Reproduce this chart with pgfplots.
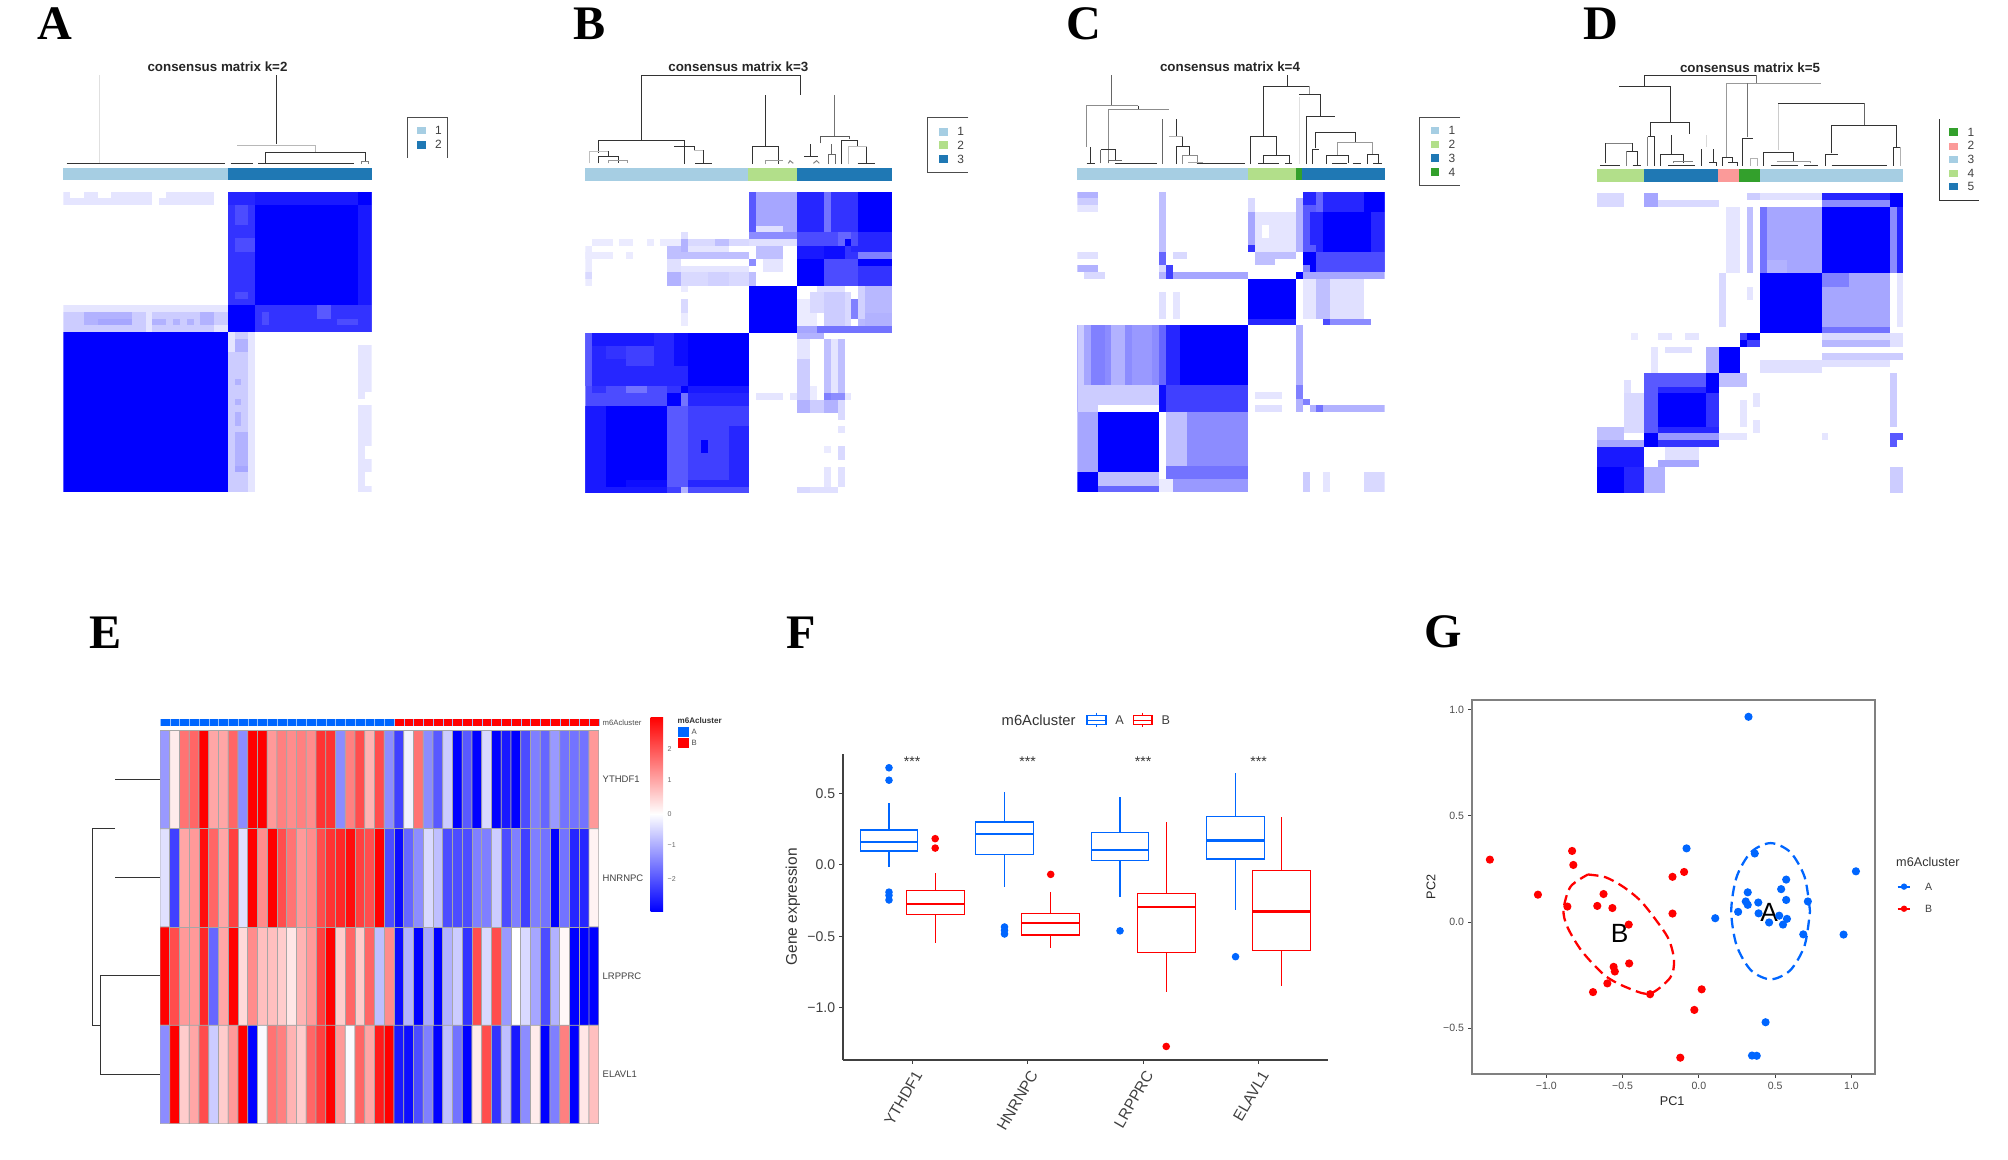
\documentclass[border=0pt]{standalone}
\usepackage{fontspec}
\setmainfont{Liberation Sans}
\newfontfamily\lserif{Liberation Serif}
\usepackage{pgfplots}
\pgfplotsset{compat=1.18}
\usepgfplotslibrary{statistics}
\definecolor{ca}{HTML}{A6CEE3}
\definecolor{cb}{HTML}{1F78B4}
\definecolor{cg}{HTML}{B2DF8A}
\definecolor{cd}{HTML}{33A02C}
\definecolor{cp}{HTML}{FB9A99}
\definecolor{cA}{HTML}{0066FF}
\definecolor{cB}{HTML}{FF0000}
\def\fs#1{\fontsize{#1}{#1}\selectfont}
% one block of a consensus matrix: x1,y1,x2,y2,percent blue
\def\R#1,#2,#3,#4,#5;{\addplot[fill=blue!#5!white,draw=none,forget plot] coordinates {(#1,#2)(#3,#2)(#3,#4)(#1,#4)} --cycle;}
% coloured block: x1,y1,x2,y2,colour
\def\C#1,#2,#3,#4,#5;{\addplot[fill=#5,draw=none,forget plot] coordinates {(#1,#2)(#3,#2)(#3,#4)(#1,#4)} --cycle;}
% dendrogram line
\newcommand\Ln[2][black!80]{\addplot[draw=#1,line width=.28pt,forget plot,mark=none] coordinates {#2};}
\newcommand\Nd[4][3.4]{\node[font=\fs{#1},text=black!75,inner sep=0pt] at (axis cs:#2,#3) {#4};}
\newcommand\BX[8]{\addplot[#2,line width=.33pt,mark=*,mark size=.9pt,mark options={fill=#2,solid},boxplot prepared={draw position=#1,lower whisker=#3,lower quartile=#4,median=#5,upper quartile=#6,upper whisker=#7}] coordinates {#8};}
\pgfplotsset{
  hm/.style={scale only axis,hide axis,anchor=north west,xmin=0,xmax=45,ymin=0,ymax=45,y dir=reverse},
  zm/.style={scale only axis,hide axis,anchor=north west,xmin=0,ymin=0,y dir=reverse,clip=false},
}
\begin{document}
\begin{tikzpicture}
\path[use as bounding box] (0,0) rectangle (200.8mm,-115.9mm);

% ---------- A
\begin{axis}[hm,at={(6.33mm,-19.17mm)},width=30.84mm,height=30.06mm]
\R 24,0,45,21,90;
\R 24,0,28,2,85;
\R 28,2,43,17,100;
\R 43,0,45,2,100;
\R 24,2,28,17,80;
\R 25,2,27,5,70;
\R 25,7,28,9,70;
\R 25,15,27,16,70;
\R 43,2,45,17,90;
\R 24,17,28,21,100;
\R 28,17,45,21,80;
\R 29,18,30,20,70;
\R 37,17,39,19,65;
\R 40,19,43,20,70;
\R 0,0,13,2,10;
\R 1,0,3,1,0;
\R 5,0,7,1,0;
\R 14,1,22,2,10;
\R 15,0,22,1,10;
\R 0,17,24,18,10;
\R 0,18,24,21,20;
\R 3,18,10,20,30;
\R 5,19,10,20,35;
\R 13,19,15,20,30;
\R 16,19,17,20,30;
\R 18,19,19,20,30;
\R 20,18,22,20,30;
\R 12,18,13,21,10;
\R 22,20,24,21,10;
\R 0,21,24,45,100;
\R 24,21,28,45,20;
\R 27,21,28,45,10;
\R 24,21,25,24,10;
\R 25,22,27,24,30;
\R 25,28,26,29,30;
\R 25,31,26,32,30;
\R 25,33,26,35,30;
\R 25,36,27,41,30;
\R 25,41,27,42,35;
\R 43,23,45,30,10;
\R 43,30,44,31,10;
\R 43,32,45,38,10;
\R 43,38,44,40,10;
\R 43,40,45,42,10;
\R 43,42,44,44,10;
\R 43,44,45,45,10;
\end{axis}
\begin{axis}[zm,at={(0,0)},width=52mm,height=52mm,xmax=1560,ymax=1560]
\C 190,503,683,541,ca;
\C 683,503,1115,541,cb;
\Ln[black!12]{(297,225)(297,490)}
\Ln{(828,225)(828,433)}
\Ln[black!28]{(712,435)(947,435)(947,456)}
\Ln{(795,490)(795,457)(1095,457)(1095,483)}
\Ln{(200,491)(675,491)}
\Ln{(692,491)(760,491)}
\Ln{(775,491)(1063,491)}
\Ln[black!50]{(1083,491)(1083,483)(1105,483)(1105,491)}
\Ln[black!70]{(1221,473)(1221,352)(1341,352)(1341,473)}
\C 1250,380,1277,403,ca;
\C 1250,423,1277,446,cb;
\Nd{1315}{391}{1}
\Nd{1315}{434}{2}
\end{axis}

% ---------- B
\begin{axis}[hm,at={(58.53mm,-19.2mm)},width=30.7mm,height=30.13mm]
\R 31,0,45,14,80;
\R 40,0,45,6,100;
\R 31,0,35,6,85;
\R 35,0,36,6,55;
\R 36,0,40,6,80;
\R 31,6,40,8,70;
\R 37,6,39,8,60;
\R 38,7,39,8,100;
\R 40,6,45,8,85;
\R 31,8,35,10,90;
\R 35,8,38,10,95;
\R 39,8,45,9,85;
\R 40,9,45,10,50;
\R 31,10,35,14,100;
\R 35,10,40,14,70;
\R 40,10,45,14,80;
\R 40,10,45,11,100;
\R 24,0,31,6,35;
\R 24,0,25,6,65;
\R 25,5,29,6,12;
\R 24,6,31,7,45;
\R 24,7,31,8,12;
\R 25,8,29,10,25;
\R 24,10,25,11,45;
\R 26,10,29,12,10;
\R 24,12,25,14,25;
\R 1,7,4,8,8;
\R 5,7,7,8,8;
\R 9,7,10,8,8;
\R 11,7,15,8,8;
\R 0,8,1,10,8;
\R 0,9,4,10,8;
\R 6,9,7,10,8;
\R 0,10,1,14,8;
\R 0,12,1,13,15;
\R 14,6,15,7,12;
\R 15,7,24,8,15;
\R 19,7,21,8,25;
\R 14,7,15,8,30;
\R 12,8,14,9,25;
\R 14,8,15,10,30;
\R 15,8,21,9,10;
\R 12,9,24,10,25;
\R 12,10,14,12,12;
\R 14,11,24,13,10;
\R 15,12,24,14,15;
\R 12,12,14,14,30;
\R 14,12,16,14,15;
\R 18,12,21,14,18;
\R 24,14,31,21,100;
\R 14,14,15,15,8;
\R 14,16,15,18,15;
\R 14,18,15,20,8;
\R 34,14,38,15,12;
\R 31,16,34,20,8;
\R 33,15,36,18,15;
\R 35,15,38,20,20;
\R 38,15,39,20,15;
\R 39,16,40,19,50;
\R 40,14,45,20,28;
\R 40,14,41,19,18;
\R 41,18,45,20,30;
\R 31,20,34,21,35;
\R 34,20,45,21,55;
\R 0,21,15,29,85;
\R 0,21,1,29,65;
\R 1,21,10,23,90;
\R 6,23,10,26,75;
\R 3,23,6,25,80;
\R 15,21,24,29,100;
\R 13,21,15,26,95;
\R 0,29,15,32,70;
\R 1,29,3,30,80;
\R 6,29,9,30,55;
\R 12,29,14,30,80;
\R 14,29,15,31,100;
\R 15,29,24,30,90;
\R 12,30,14,32,100;
\R 14,30,15,32,55;
\R 15,30,24,32,85;
\R 0,32,12,45,100;
\R 0,32,3,44,90;
\R 6,43,12,44,95;
\R 0,44,15,45,90;
\R 12,32,24,45,75;
\R 12,32,15,44,65;
\R 17,37,18,39,100;
\R 21,35,24,43,85;
\R 15,43,24,44,85;
\R 14,44,15,45,30;
\R 15,44,24,45,70;
\R 31,22,33,31,10;
\R 31,25,33,31,20;
\R 33,29,34,31,8;
\R 35,22,36,31,25;
\R 36,22,37,31,10;
\R 37,22,38,31,25;
\R 31,21,35,22,30;
\R 31,31,33,33,30;
\R 33,31,35,33,20;
\R 35,30,37,31,50;
\R 36,30,38,31,45;
\R 38,30,39,31,10;
\R 35,31,37,33,30;
\R 37,31,38,34,15;
\R 25,30,29,31,10;
\R 30,30,31,31,10;
\R 37,35,38,36,10;
\R 35,38,36,39,8;
\R 37,38,38,40,15;
\R 35,41,36,44,10;
\R 37,41,38,44,12;
\R 31,44,33,45,15;
\R 33,44,37,45,12;
\end{axis}
\begin{axis}[zm,at={(54mm,0)},width=48mm,height=52mm,xmax=1440,ymax=1560]
\C 136,503,625,543,ca;
\C 625,503,772,543,cg;
\C 772,503,1057,543,cb;
\Ln{(305,420)(305,225)(780,225)(780,285)}
\Ln{(176,458)(176,420)(433,420)(433,438)}
\Ln[black!25]{(148,490)(148,453)(205,453)}
\Ln{(205,453)(205,468)}
\Ln{(176,490)(176,468)(235,468)(235,490)}
\Ln[black!40]{(205,490)(205,481)(262,481)(262,490)}
\Ln{(403,438)(463,438)(463,450)}
\Ln{(433,438)(433,492)}
\Ln[black!25]{(463,450)(490,450)}
\Ln{(490,450)(490,488)}
\Ln{(465,490)(515,490)}
\Ln{(676,285)(676,438)}
\Ln{(637,492)(637,438)(714,438)(714,492)}
\Ln[black!40]{(676,492)(676,481)(730,481)}
\Ln[black!50]{(745,490)(750,482)(760,490)}
\Ln[black!55]{(883,285)(883,408)}
\Ln[black!65]{(841,430)(841,410)(928,410)(928,418)}
\Ln{(812,433)(812,470)}
\Ln{(792,470)(835,470)}
\Ln[black!50]{(820,490)(830,482)(838,490)}
\Ln[black!60]{(875,433)(875,462)}
\Ln[black!60]{(865,492)(865,462)(885,462)(885,492)}
\Ln{(903,492)(903,420)(951,420)(951,440)}
\Ln[black!25]{(925,492)(925,440)(980,440)}
\Ln{(980,440)(980,488)}
\Ln{(953,490)(1005,490)}
\Ln[black!70]{(1285,352)(1163,352)(1163,516)(1285,516)}
\C 1196,383,1223,407,ca;
\C 1196,423,1223,447,cg;
\C 1196,465,1223,489,cb;
\Nd{1262}{395}{1}
\Nd{1262}{435}{2}
\Nd{1262}{477}{3}
\end{axis}

% ---------- C
\begin{axis}[hm,at={(107.73mm,-19.17mm)},width=30.74mm,height=30.06mm]
\R 33,0,45,12,85;
\R 36,3,43,9,100;
\R 42,0,45,3,100;
\R 35,0,36,3,60;
\R 33,2,35,9,65;
\R 34,3,35,8,85;
\R 33,9,35,11,100;
\R 35,9,45,12,70;
\R 43,3,45,9,85;
\R 34,11,35,12,100;
\R 33,11,34,12,50;
\R 26,3,32,9,10;
\R 27,5,28,7,0;
\R 25,1,26,3,15;
\R 25,3,26,9,35;
\R 25,8,26,9,80;
\R 32,1,33,9,30;
\R 26,9,32,10,25;
\R 26,10,29,11,25;
\R 12,0,13,9,25;
\R 12,9,13,11,60;
\R 12,11,13,12,15;
\R 13,11,14,13,75;
\R 14,9,16,10,15;
\R 0,0,3,1,30;
\R 0,1,3,2,20;
\R 0,2,3,3,10;
\R 0,9,3,10,12;
\R 0,11,3,12,30;
\R 1,12,4,13,15;
\R 12,12,13,13,30;
\R 14,12,25,13,35;
\R 25,13,32,20,100;
\R 25,19,32,20,85;
\R 33,13,35,19,10;
\R 35,13,37,19,25;
\R 37,13,42,19,12;
\R 37,19,43,20,45;
\R 36,19,37,20,70;
\R 32,12,33,13,100;
\R 33,12,45,13,35;
\R 12,15,13,19,12;
\R 14,15,15,19,10;
\R 0,20,25,33,75;
\R 15,20,25,29,100;
\R 13,20,15,29,85;
\R 0,20,13,29,45;
\R 0,20,1,29,20;
\R 1,20,2,29,35;
\R 2,20,4,29,50;
\R 5,20,7,29,30;
\R 8,20,11,29,40;
\R 12,20,13,29,60;
\R 0,29,12,33,20;
\R 3,32,12,33,0;
\R 12,29,25,33,75;
\R 12,29,13,33,95;
\R 3,33,12,42,100;
\R 0,33,3,42,35;
\R 12,33,13,42,0;
\R 13,33,16,42,25;
\R 16,33,25,42,45;
\R 13,41,25,43,55;
\R 3,41,12,42,100;
\R 0,42,3,45,100;
\R 3,42,12,45,25;
\R 3,44,12,45,60;
\R 12,43,14,45,8;
\R 14,43,25,45,40;
\R 32,20,33,33,30;
\R 32,29,33,31,50;
\R 33,31,34,32,50;
\R 33,42,34,45,20;
\R 36,42,37,45,10;
\R 42,42,45,45,15;
\R 26,30,30,31,10;
\R 26,32,30,33,12;
\R 34,32,45,33,30;
\R 35,32,36,33,55;
\end{axis}
\begin{axis}[zm,at={(104mm,0)},width=48mm,height=52mm,xmax=1440,ymax=1560]
\C 112,503,625,541,ca;
\C 625,503,767,541,cg;
\C 767,503,787,541,cd;
\C 787,503,1034,541,cb;
\Ln[black!60]{(215,225)(215,317)}
\Ln[black!45]{(138,440)(138,317)(295,317)}
\Ln{(295,317)(295,327)}
\Ln[black!45]{(205,490)(205,328)(388,328)}
\Ln[black!60]{(367,357)(367,492)}
\Ln{(409,357)(409,410)}
\Ln[black!30]{(388,410)(428,410)}
\Ln{(428,410)(428,438)}
\Ln{(408,492)(408,438)(448,438)(448,465)}
\Ln[black!45]{(428,492)(428,465)(472,465)(472,485)}
\Ln[black!35]{(445,487)(490,487)}
\Ln{(470,491)(615,491)}
\Ln{(152,442)(152,490)}
\Ln{(140,491)(165,491)}
\Ln[black!60]{(182,490)(182,449)}
\Ln{(182,449)(225,449)(225,480)}
\Ln[black!60]{(205,490)(205,482)(245,482)}
\Ln{(225,491)(350,491)}
\Ln{(742,225)(742,258)}
\Ln{(671,408)(671,258)(808,258)}
\Ln[black!40]{(808,258)(808,282)}
\Ln{(632,492)(632,410)(708,410)(708,465)}
\Ln{(671,492)(671,467)(747,467)(747,490)}
\Ln{(655,491)(717,491)}
\Ln{(735,491)(757,491)}
\Ln{(778,282)(842,282)(842,349)}
\Ln{(798,492)(798,349)(886,349)}
\Ln[black!12]{(778,290)(778,492)}
\Ln{(827,445)(827,396)(946,396)(946,428)}
\Ln{(817,492)(817,449)(838,449)}
\Ln[black!40]{(892,465)(892,428)(998,428)(998,462)}
\Ln{(858,492)(858,467)(925,467)(925,490)}
\Ln{(877,491)(922,491)}
\Ln{(938,491)(962,491)}
\Ln{(982,492)(982,462)(1015,462)(1015,491)}
\Ln{(1000,491)(1025,491)}
\Ln[black!70]{(1260,352)(1139,352)(1139,556)(1260,556)}
\C 1172,380,1198,403,ca;
\C 1172,423,1198,445,cg;
\C 1172,463,1198,486,cb;
\C 1172,504,1198,527,cd;
\Nd{1236}{391}{1}
\Nd{1236}{434}{2}
\Nd{1236}{475}{3}
\Nd{1236}{516}{4}
\end{axis}

% ---------- D
\begin{axis}[hm,at={(159.67mm,-19.33mm)},width=30.66mm,height=30mm]
\R 33,0,45,1,85;
\R 33,1,43,2,45;
\R 43,0,45,2,100;
\R 33,2,43,12,100;
\R 43,2,44,12,45;
\R 44,2,45,12,85;
\R 24,2,33,12,35;
\R 24,2,25,12,55;
\R 25,10,28,12,30;
\R 22,2,23,12,25;
\R 20,2,21,12,10;
\R 19,2,20,12,10;
\R 24,0,33,1,12;
\R 22,0,24,1,20;
\R 33,12,43,20,35;
\R 33,12,37,14,50;
\R 24,12,33,21,100;
\R 33,20,43,21,55;
\R 18,12,19,20,15;
\R 22,14,23,16,10;
\R 44,12,45,20,10;
\R 33,21,43,22,15;
\R 33,22,43,23,28;
\R 43,21,45,23,12;
\R 21,21,22,23,75;
\R 22,21,24,22,100;
\R 22,22,24,23,75;
\R 21,22,22,23,100;
\R 18,23,21,27,100;
\R 16,23,18,27,30;
\R 10,23,14,24,12;
\R 18,23,21,24,100;
\R 33,24,45,25,20;
\R 33,25,43,26,12;
\R 24,25,33,27,12;
\R 7,27,18,29,65;
\R 16,27,18,30,100;
\R 9,30,16,35,100;
\R 7,29,9,38,65;
\R 9,29,16,30,85;
\R 16,30,18,36,80;
\R 9,35,18,36,85;
\R 9,36,18,37,40;
\R 9,37,18,38,80;
\R 7,36,9,38,100;
\R 4,28,5,30,12;
\R 4,30,7,36,15;
\R 0,35,4,37,25;
\R 0,37,7,38,35;
\R 0,38,7,41,90;
\R 0,41,4,45,100;
\R 4,41,7,45,85;
\R 10,38,15,40,12;
\R 9,40,15,41,35;
\R 7,41,10,45,30;
\R 18,27,22,29,25;
\R 18,36,22,37,10;
\R 21,31,22,35,10;
\R 23,30,24,32,10;
\R 23,34,24,36,10;
\R 43,27,44,35,20;
\R 43,36,45,37,65;
\R 43,37,44,38,65;
\R 43,41,45,45,20;
\R 33,36,34,37,10;
\R 0,0,4,2,15;
\R 7,0,9,2,35;
\R 9,1,18,2,15;
\R 5,21,6,22,8;
\R 9,21,11,22,10;
\R 13,21,15,22,10;
\R 8,23,9,27,10;
\end{axis}
\begin{axis}[zm,at={(156mm,0)},width=44.8mm,height=52mm,xmax=1344,ymax=1560]
\C 110,506,252,546,cg;
\C 252,506,475,546,cb;
\C 475,506,538,546,cp;
\C 538,506,600,546,cd;
\C 600,506,1030,546,ca;
\Ln{(254,258)(254,226)(588,226)}
\Ln[black!55]{(588,226)(588,248)}
\Ln{(177,258)(330,258)(330,366)}
\Ln[black!40]{(500,470)(500,250)(783,250)}
\Ln[black!55]{(563,410)(563,250)}
\Ln[black!20]{(655,450)(655,310)}
\Ln{(655,310)(914,310)}
\Ln[black!60]{(914,310)(914,377)}
\Ln{(815,460)(815,377)(1010,377)(1010,442)}
\Ln{(272,410)(272,366)(388,366)(388,403)}
\Ln[black!50]{(263,497)(263,410)}
\Ln{(263,410)(284,410)(284,497)}
\Ln{(335,405)(335,462)}
\Ln{(302,497)(302,462)(369,462)(369,490)}
\Ln[black!50]{(340,490)(340,485)(398,485)}
\Ln{(325,496)(405,496)}
\Ln{(425,447)(425,497)}
\Ln[black!15]{(440,405)(440,440)}
\Ln{(459,447)(459,485)}
\Ln{(448,488)(470,488)(470,497)}
\Ln[black!50]{(135,430)(217,430)}
\Ln{(135,490)(135,430)}
\Ln{(120,496)(180,496)}
\Ln{(217,430)(217,452)}
\Ln[black!50]{(200,497)(200,454)}
\Ln{(200,454)(232,454)(232,497)}
\Ln{(218,496)(242,496)}
\Ln{(486,497)(486,471)(517,471)(517,488)}
\Ln{(505,488)(532,488)(532,497)}
\Ln{(548,497)(548,414)(578,414)}
\Ln[black!30]{(570,497)(570,476)(593,476)(593,497)}
\Ln{(611,497)(611,458)(700,458)(700,483)}
\Ln{(632,496)(714,496)}
\Ln[black!40]{(650,483)(750,483)(750,490)}
\Ln{(733,496)(775,496)}
\Ln{(795,497)(795,462)(835,462)}
\Ln{(815,496)(980,496)}
\Ln{(1000,497)(1000,442)(1020,442)}
\Ln[black!30]{(1020,442)(1020,497)}
\Ln[black!80]{(1137,357)(1137,600)(1257,600)}
\C 1168,385,1195,408,cd;
\C 1168,428,1195,449,cp;
\C 1168,467,1195,490,ca;
\C 1168,509,1195,530,cg;
\C 1168,548,1195,571,cb;
\Nd{1233}{397}{1}
\Nd{1233}{437}{2}
\Nd{1233}{478}{3}
\Nd{1233}{520}{4}
\Nd{1233}{560}{5}
\end{axis}

% ---------- E
\begin{axis}[scale only axis,hide axis,anchor=north west,at={(16mm,-73.04mm)},width=43.88mm,height=39.32mm,
  xmin=-0.5,xmax=44.5,ymin=-0.5,ymax=3.5,y dir=reverse,
  colormap={bwr}{rgb255=(0,0,255) rgb255=(255,255,255) rgb255=(255,0,0)},point meta min=-1,point meta max=1]
\addplot[matrix plot,mesh/cols=45,point meta=explicit,draw=gray!70,line width=.2pt]
 table[row sep=crcr,header=false,x expr={\coordindex-45*floor((\coordindex+0.5)/45)},y expr={floor((\coordindex+0.5)/45)},meta index=0]{
 -0.4\\0.08\\0.55\\0.6\\1\\0.35\\0.35\\0.6\\-0.45\\1\\1\\0.4\\0.5\\0.45\\0.5\\0.45\\0.8\\0.8\\-0.45\\0.5\\0.7\\0.3\\0.7\\-0.45\\-0.75\\-0.05\\0.55\\-0.45\\-0.65\\-0.2\\-1\\-0.65\\-1\\-0.15\\-1\\-0.9\\-1\\-0.7\\-0.5\\-0.6\\-0.4\\-0.55\\-0.55\\-0.55\\0.4\\
 -0.12\\-0.75\\0.35\\0.4\\0.95\\0.6\\0.35\\0.75\\-0.12\\1\\0.45\\1\\0.7\\0.55\\0.4\\0.45\\0.7\\0.8\\0.85\\0.95\\0.75\\0.7\\1\\-0.7\\-0.95\\-0.6\\-0.45\\-0.15\\-0.25\\-0.7\\-0.7\\-0.7\\-0.5\\-0.5\\-0.2\\-0.7\\-0.5\\-0.75\\-0.5\\-0.55\\-1\\-0.55\\-0.85\\-0.85\\0.05\\
 1\\0.7\\0.4\\0.4\\0.85\\-0.6\\0.35\\1\\0.15\\0.45\\0.25\\0.25\\0.2\\0.1\\0.3\\0.4\\0.75\\1\\0.2\\0.6\\0.2\\0.6\\-0.25\\0.45\\-0.95\\-0.3\\-1\\-0.35\\-1\\-0.3\\-0.2\\-0.8\\0.7\\-0.15\\0.7\\-0.4\\0\\-0.15\\-0.35\\-0.7\\-0.3\\0.03\\-1\\-1\\-1\\
 -0.45\\1\\0.2\\0.35\\0.7\\-0.2\\0.2\\0.4\\1\\-1\\-0.02\\0.55\\0.5\\0.3\\0.2\\0.6\\0.75\\1\\0.4\\-0.02\\0.6\\0.35\\0.9\\1\\-0.9\\-0.95\\-0.7\\-0.5\\-1\\-0.25\\-0.55\\-1\\0.08\\0.7\\-0.8\\-0.25\\-0.9\\-0.45\\0.08\\-1\\-0.5\\0.5\\-1\\0.1\\0.25\\
 };
\end{axis}
% annotation bar of E
\begin{axis}[scale only axis,anchor=north west,at={(16mm,-71.85mm)},width=43.88mm,height=.77mm,xmin=0,xmax=45,ymin=0,ymax=1,
  xtick={0,...,45},ytick=\empty,xticklabels={},major tick length=0pt,xmajorgrids,grid style={white!60!cA,line width=.12pt},axis on top,axis line style={draw=none}]
\C 0,0,24,1,cA;
\C 24,0,45,1,cB;
\end{axis}
% dendrogram of E, in pixels of the page
\begin{axis}[scale only axis,hide axis,anchor=north west,at={(0,0)},width=200.8mm,height=115.9mm,xmin=0,xmax=2008,ymin=0,ymax=1159,y dir=reverse,clip=false]
\Ln{(115,779.5)(160,779.5)}
\Ln{(115,877.9)(160,877.9)}
\Ln{(115,828.7)(92,828.7)(92,1025)(100,1025)}
\Ln{(160,975.9)(100,975.9)(100,1074)(160,1074)}
\end{axis}

% ---------- F
\begin{axis}[scale only axis,anchor=north west,at={(84.29mm,-75.36mm)},width=48.46mm,height=30.64mm,
  xmin=0.401,xmax=4.596,ymin=-1.365,ymax=0.779,axis lines=left,
  axis line style={-,line width=.4pt,black!75},tick style={black!75,line width=.3pt},major tick length=1pt,tick align=outside,
  xtick={1,2,3,4},xticklabels={YTHDF1,HNRNPC,LRPPRC,ELAVL1},
  ytick={-1,-0.5,0,0.5},yticklabels={−1.0,−0.5,0.0,0.5},
  y tick label style={font=\fs{4},text=black!75,inner sep=1pt},
  x tick label style={font=\fs{4.4},text=black!75,rotate=60,anchor=north east,inner sep=1pt},
  ylabel={Gene expression},ylabel style={font=\fs{4.4},text=black!80,at={(axis description cs:-0.103,0.5)},anchor=center},
  boxplot/draw direction=y,boxplot/box extend=0.5,boxplot/whisker extend=0,boxplot/every median/.style={line width=.65pt},clip=false]
\BX{0.8}{cA}{-0.012}{0.098}{0.16}{0.245}{0.436}{(0,0.68)(0,0.593)(0,-0.19)(0,-0.213)(0,-0.245)}
\BX{1.2}{cB}{-0.549}{-0.346}{-0.272}{-0.179}{-0.054}{(0,0.184)(0,0.118)}
\BX{1.8}{cA}{-0.152}{0.074}{0.216}{0.30}{0.51}{(0,-0.434)(0,-0.458)(0,-0.483)}
\BX{2.2}{cB}{-0.581}{-0.49}{-0.404}{-0.34}{-0.189}{(0,-0.066)}
\BX{2.8}{cA}{-0.225}{0.032}{0.105}{0.23}{0.478}{(0,-0.461)}
\BX{3.2}{cB}{-0.892}{-0.61}{-0.294}{-0.199}{0.30}{(0,-1.27)}
\BX{3.8}{cA}{-0.316}{0.042}{0.172}{0.34}{0.642}{(0,-0.642)}
\BX{4.2}{cB}{-0.85}{-0.60}{-0.326}{-0.037}{0.333}{}
\node[font=\fs{4},text=black!80,inner sep=0pt] at (axis cs:1,0.72) {***};
\node[font=\fs{4},text=black!80,inner sep=0pt] at (axis cs:2,0.72) {***};
\node[font=\fs{4},text=black!80,inner sep=0pt] at (axis cs:3,0.72) {***};
\node[font=\fs{4},text=black!80,inner sep=0pt] at (axis cs:4,0.72) {***};
\end{axis}

% ---------- G
\begin{axis}[scale only axis,anchor=north west,at={(147.17mm,-70mm)},width=40.33mm,height=37.4mm,
  xmin=-1.489,xmax=1.154,ymin=-0.716,ymax=1.046,
  axis line style={line width=.45pt,black!50},tick style={black!75,line width=.25pt},major tick length=1pt,tick align=outside,
  xtick={-1,-0.5,0,0.5,1},xticklabels={−1.0,−0.5,0.0,0.5,1.0},ytick={-0.5,0,0.5,1},yticklabels={−0.5,0.0,0.5,1.0},
  xtick pos=bottom,ytick pos=left,
  tick label style={font=\fs{3},text=black!70,inner sep=1pt},
  xlabel={PC1},xlabel style={font=\fs{3.6},text=black!85,at={(axis description cs:0.497,-0.072)},anchor=center},
  ylabel={PC2},ylabel style={font=\fs{3.6},text=black!85,at={(axis description cs:-0.101,0.5)},anchor=center}]
\addplot[only marks,mark=*,mark size=.95pt,cA] coordinates {
(.325,.967)(-.081,.347)(.366,.323)(.572,.2)(.539,.155)(.32,.14)(.307,.097)(.389,.092)
(.572,.104)(.714,.097)(.32,.081)(.257,.048)(.391,.041)(.526,.03)(.577,.015)(.46,-.002)
(.551,-.012)(.107,.018)(.684,-.058)(.948,-.059)(1.029,.239)(.437,-.472)(.348,-.629)(.379,-.63)};
\addplot[only marks,mark=*,mark size=.95pt,cB] coordinates {
(-1.37,.294)(-.831,.335)(-.823,.269)(-1.055,.129)(-.862,.073)(-.666,.076)(-.625,.132)
(-.567,.066)(-.46,-.012)(-.173,.213)(-.097,.236)(-.173,.04)(-.457,-.195)(-.559,-.211)
(-.551,-.233)(-.6,-.289)(-.694,-.33)(-.32,-.34)(.018,-.317)(-.03,-.414)(-.122,-.639)};
\addplot[smooth,cA,line width=.65pt,dash pattern=on 3pt off 1.6pt] coordinates {
(.728,.051)(.693,.212)(.599,.329)(.47,.372)(.341,.329)(.247,.212)(.212,.051)
(.247,-.11)(.341,-.227)(.47,-.27)(.599,-.227)(.693,-.11)(.728,.051)};
\addplot[smooth,cB,line width=.65pt,dash pattern=on 3pt off 1.6pt] coordinates {
(-.727,.224)(-.612,.211)(-.498,.167)(-.384,.101)(-.282,.01)(-.198,-.081)(-.163,-.18)
(-.188,-.262)(-.32,-.337)(-.46,-.312)(-.612,-.254)(-.765,-.139)(-.862,-.023)(-.887,.059)(-.841,.167)(-.727,.224)};
\node[font=\fs{7.5},inner sep=0pt] at (axis cs:.46,.043) {A};
\node[font=\fs{7.5},inner sep=0pt] at (axis cs:-.52,-.055) {B};
\end{axis}

% texts and legends, in pixels of the page
\begin{scope}[x=0.1mm,y=-0.1mm]
\foreach \lt/\lx/\ly in {A/55/24,B/590/24,C/1084/24,D/1601/24,E/105.5/633,F/801.5/633,G/1443/632}
  \node[font=\lserif\bfseries\fs{13.7},inner sep=0pt] at (\lx,\ly) {\lt};
\foreach \tt/\tx/\ty in {2/217.5/66.7,3/738.3/67,4/1230/67,5/1750/68}
  \node[font=\bfseries\fs{3.8},text=black!85,inner sep=0pt] at (\tx,\ty) {consensus matrix k=\tt};
% E labels and keys
\foreach \nm/\ny in {YTHDF1/779.5,HNRNPC/877.9,LRPPRC/975.9,ELAVL1/1074}
  \node[font=\fs{2.7},text=black!75,inner sep=0pt,anchor=west] at (602,\ny) {\nm};
\node[font=\fs{2.2},text=black!70,inner sep=0pt,anchor=west] at (602,722.4) {m6Acluster};
\shade[top color=red,bottom color=blue,middle color=white] (650.6,717) rectangle (663,911);
\foreach \lb/\ly in {2/749,1/779.8,0/813.8,−1/844.6,−2/878.9}
  \node[font=\fs{2},text=black!60,inner sep=0pt,anchor=west] at (667,\ly) {\lb};
\node[font=\bfseries\fs{2.3},text=black!80,inner sep=0pt,anchor=west] at (677,720.6) {m6Acluster};
\fill[cA] (678,726.6) rectangle (688.6,736.8);
\fill[cB] (678,737.8) rectangle (688.6,748);
\node[font=\fs{2.2},text=black!70,inner sep=0pt,anchor=west] at (691,731.7) {A};
\node[font=\fs{2.2},text=black!70,inner sep=0pt,anchor=west] at (691,743) {B};
% F legend
\node[font=\fs{4.2},text=black!80,inner sep=0pt,anchor=west] at (1001,720.3) {m6Acluster};
\draw[cA,line width=.3pt] (1087,715.5) rectangle (1106,724.5) (1087,720) -- (1106,720) (1096.5,712.6) -- (1096.5,715.5) (1096.5,724.5) -- (1096.5,727.3);
\node[font=\fs{3.6},text=black!75,inner sep=0pt] at (1119.6,720) {A};
\draw[cB,line width=.3pt] (1133.3,715.5) rectangle (1152,724.5) (1133.3,720) -- (1152,720) (1142.6,712.6) -- (1142.6,715.5) (1142.6,724.5) -- (1142.6,727.3);
\node[font=\fs{3.6},text=black!75,inner sep=0pt] at (1165.9,720) {B};
% G legend
\node[font=\fs{3.6},text=black!80,inner sep=0pt,anchor=west] at (1895.5,862) {m6Acluster};
\draw[cA,line width=.5pt] (1897.5,886.6) -- (1910,886.6);
\fill[cA] (1904,886.6) circle (3.2);
\node[font=\fs{3},text=black!75,inner sep=0pt] at (1928.5,886.6) {A};
\draw[cB,line width=.5pt] (1897.5,908.7) -- (1910,908.7);
\fill[cB] (1904,908.7) circle (3.2);
\node[font=\fs{3},text=black!75,inner sep=0pt] at (1928.5,908.7) {B};
\end{scope}
\end{tikzpicture}
\end{document}
